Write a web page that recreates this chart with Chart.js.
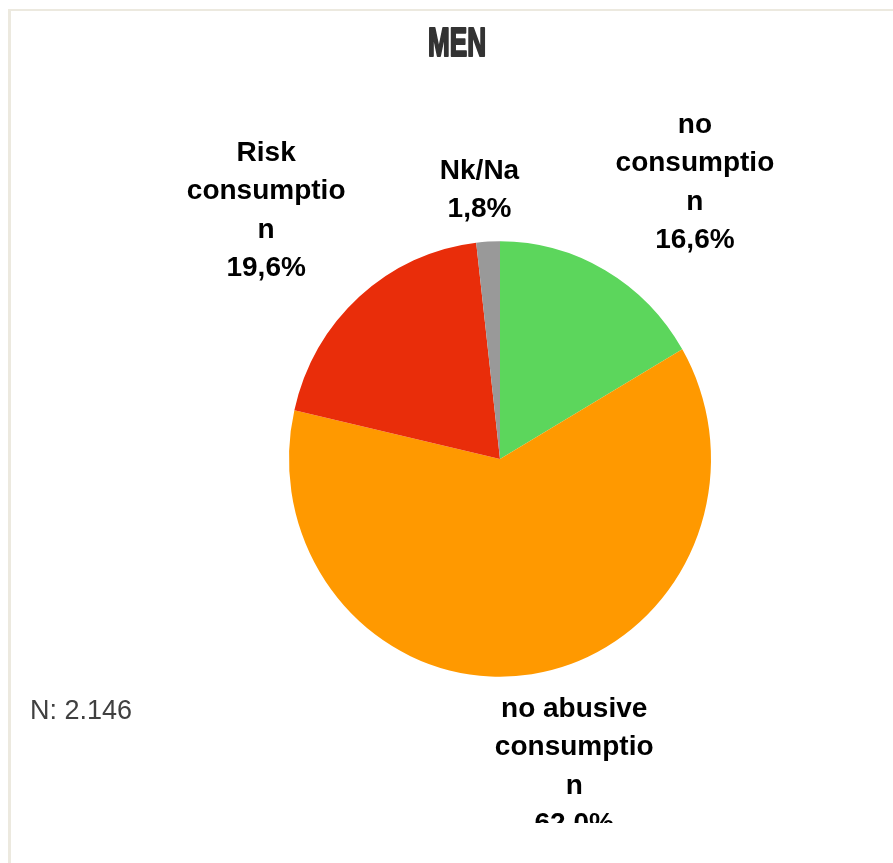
<!DOCTYPE html>
<html>
<head>
<meta charset="utf-8">
<script src="https://cdn.jsdelivr.net/npm/chart.js@4/dist/chart.umd.min.js"></script>
<style>
    html, body { margin: 0; padding: 0; background: #fff; overflow: hidden; }
    #frame {
        position: absolute; left: 8px; top: 9px;
        width: 960px; height: 960px;
        border-left: 3px solid #ECE9DF; border-top: 2px solid #ECE9DF;
    }
    #pie { position: absolute; left: 0; top: 0; }
</style>
</head>
<body>
<div id="frame"></div>
<canvas id="pie" width="893" height="863"></canvas>
<script>
const chartTitle = 'MEN';
const categories = ['no consumption', 'no abusive consumption', 'Risk consumption', 'Nk/Na'];
const shares = [16.6, 62.0, 19.6, 1.8];
const sliceColors = ['#5CD65C', '#FF9900', '#E92D0A', '#999999'];
const sampleNote = 'N: 2.146';

const LABEL_FONT = 'bold 28px "Liberation Sans", Arial, sans-serif';
const LINE_H = 38.4;
const WRAP_W = 170;
const PIE_STRETCH_Y = 1.032;

// word wrap, breaking words that are too long on their own
function wrapText(c, text, maxW) {
    let lines = [];
    let cur = '';
    text.split(' ').forEach(word => {
        let trial = cur ? cur + ' ' + word : word;
        if (c.measureText(trial).width <= maxW) { cur = trial; return; }
        if (cur) lines.push(cur);
        cur = '';
        for (const ch of word) {
            if (c.measureText(cur + ch).width > maxW && cur) {
                lines.push(cur);
                cur = ch;
            } else {
                cur += ch;
            }
        }
    });
    if (cur) lines.push(cur);
    return lines;
}

const clamp = (v) => Math.max(-1, Math.min(1, v));

// the pie is drawn slightly taller than wide
const stretch = {
    id: 'stretch',
    beforeDatasetsDraw(chart) {
        const arc = chart.getDatasetMeta(0).data[0];
        const c = chart.ctx;
        c.save();
        c.translate(arc.x, arc.y);
        c.scale(1, PIE_STRETCH_Y);
        c.translate(-arc.x, -arc.y);
    },
    afterDatasetsDraw(chart) {
        chart.ctx.restore();
    }
};

const extras = {
    id: 'extras',
    afterDraw(chart) {
        const c = chart.ctx;
        c.save();

        // title, squeezed horizontally
        c.font = 'bold 40px "Liberation Sans", Arial, sans-serif';
        c.fillStyle = '#333333';
        c.strokeStyle = '#333333';
        c.lineWidth = 2.2;
        c.lineJoin = 'round';
        c.textAlign = 'center';
        c.textBaseline = 'alphabetic';
        const tw = c.measureText(chartTitle).width;
        c.save();
        c.translate(457, 56);
        c.scale(58 / tw, 1);
        c.fillText(chartTitle, 0, 0);
        c.strokeText(chartTitle, 0, 0);
        c.restore();

        // sample size note
        c.font = '27px "Liberation Sans", Arial, sans-serif';
        c.fillStyle = '#404040';
        c.textAlign = 'left';
        c.fillText(sampleNote, 30, 719);

        // data labels outside each slice
        c.beginPath();
        c.rect(0, 0, chart.width, 823);
        c.clip();
        c.font = LABEL_FONT;
        c.fillStyle = '#000000';
        c.textAlign = 'center';
        const meta = chart.getDatasetMeta(0);
        meta.data.forEach((arc, i) => {
            const mid = (arc.startAngle + arc.endAngle) / 2;
            const dx = Math.cos(mid), dy = Math.sin(mid);
            const r = arc.outerRadius + 21;
            const px = arc.x + dx * r, py = arc.y + dy * r;
            const lines = wrapText(c, categories[i], WRAP_W);
            lines.push(shares[i].toFixed(1).replace('.', ',') + '%');
            const w = Math.max(...lines.map(l => c.measureText(l).width));
            const h = lines.length * LINE_H;
            const cx = px + clamp(3.3 * dx) * w / 2;
            const cy = py + clamp(2 * dy) * h / 2;
            const top = cy - h / 2;
            lines.forEach((l, k) => c.fillText(l, cx, top + 28.5 + k * LINE_H));
        });
        c.restore();
    }
};

new Chart(document.getElementById('pie'), {
    type: 'pie',
    data: {
        labels: categories,
        datasets: [{
            data: shares,
            backgroundColor: sliceColors,
            borderWidth: 0
        }]
    },
    options: {
        responsive: false,
        devicePixelRatio: 1,
        animation: false,
        layout: { padding: { left: 289, right: 182, top: 248, bottom: 193 } },
        plugins: {
            legend: { display: false },
            title: { display: false },
            tooltip: { enabled: false }
        }
    },
    plugins: [stretch, extras]
});
</script>
</body>
</html>
